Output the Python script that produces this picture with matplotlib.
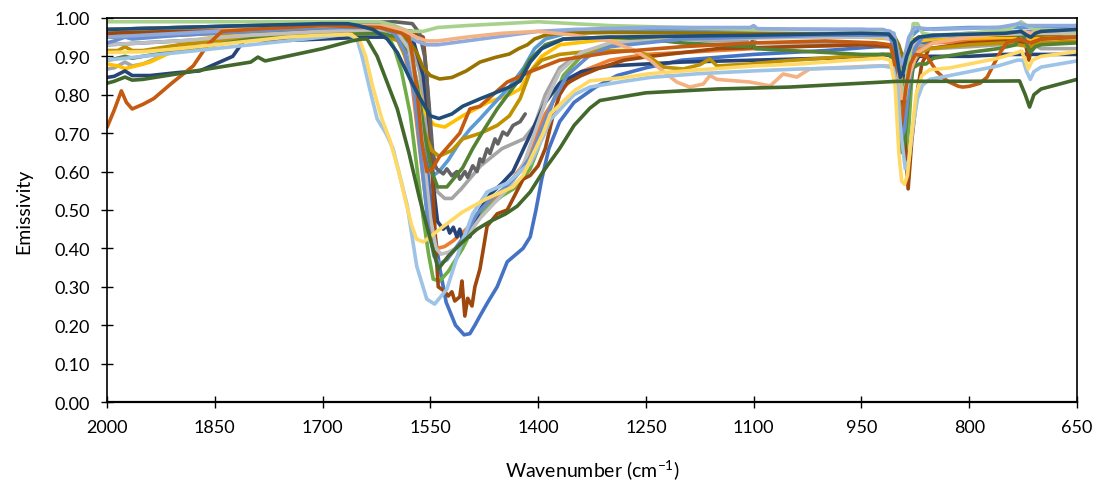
import matplotlib.pyplot as plt
from matplotlib.ticker import FormatStrFormatter

plt.rcParams['font.family'] = ['Lato', 'DejaVu Sans']

# Emissivity spectra, each sample as wavenumber (cm-1) / emissivity pairs
s01_wn = [2000, 1950, 1900, 1850, 1800, 1700, 1620, 1595, 1580, 1567, 1557, 1547, 1537, 1528, 1515, 1503, 1495, 1488,
          1481, 1470, 1457, 1443, 1421, 1411, 1403, 1395, 1385, 1370, 1350, 1320, 1290, 1250, 1200, 1100, 1000, 930,
          905, 895, 889, 882, 872, 850, 750, 725, 715, 700, 650]
s01_em = [0.93, 0.935, 0.94, 0.945, 0.955, 0.97, 0.975, 0.96, 0.92, 0.82, 0.66, 0.48, 0.35, 0.26, 0.20, 0.175, 0.178,
          0.20, 0.224, 0.26, 0.30, 0.365, 0.40, 0.43, 0.50, 0.58, 0.66, 0.73, 0.78, 0.82, 0.85, 0.87, 0.89, 0.905,
          0.915, 0.925, 0.925, 0.90, 0.87, 0.90, 0.93, 0.94, 0.95, 0.955, 0.945, 0.955, 0.96]

s02_wn = [2000, 1900, 1800, 1700, 1620, 1600, 1588, 1575, 1565, 1556, 1548, 1540, 1530, 1518, 1500, 1480, 1460, 1440,
          1420, 1405, 1390, 1370, 1340, 1300, 1250, 1150, 1050, 950, 910, 903, 898, 894, 889, 882, 872, 850, 750, 720,
          700, 650]
s02_em = [0.95, 0.96, 0.965, 0.975, 0.975, 0.965, 0.92, 0.82, 0.66, 0.52, 0.43, 0.40, 0.405, 0.42, 0.45, 0.49, 0.53,
          0.57, 0.62, 0.68, 0.75, 0.81, 0.86, 0.89, 0.905, 0.915, 0.925, 0.93, 0.93, 0.88, 0.78, 0.75, 0.78, 0.88,
          0.92, 0.935, 0.945, 0.95, 0.95, 0.955]

s03_wn = [2000, 1990, 1975, 1965, 1950, 1900, 1850, 1800, 1700, 1620, 1590, 1575, 1565, 1555, 1548, 1540, 1530, 1520,
          1507, 1480, 1450, 1420, 1405, 1390, 1370, 1340, 1300, 1250, 1200, 1150, 1110, 1103, 1097, 1050, 1000, 950,
          910, 900, 895, 890, 880, 870, 850, 800, 760, 740, 728, 715, 700, 650]
s03_em = [0.867, 0.87, 0.885, 0.875, 0.88, 0.92, 0.945, 0.955, 0.965, 0.968, 0.965, 0.93, 0.86, 0.72, 0.60, 0.547,
          0.53, 0.53, 0.555, 0.615, 0.66, 0.685, 0.72, 0.80, 0.87, 0.91, 0.93, 0.945, 0.945, 0.94, 0.94, 0.955, 0.935,
          0.935, 0.935, 0.93, 0.93, 0.90, 0.86, 0.87, 0.92, 0.93, 0.92, 0.925, 0.93, 0.935, 0.97, 0.935, 0.92, 0.92]

s04_wn = [2000, 1985, 1975, 1960, 1940, 1900, 1870, 1830, 1750, 1650, 1600, 1585, 1575, 1565, 1555, 1545, 1530, 1505,
          1490, 1470, 1455, 1440, 1425, 1411, 1395, 1370, 1300, 1100, 950, 905, 898, 893, 889, 884, 878, 870, 850,
          750, 715, 700, 650]
s04_em = [0.88, 0.875, 0.868, 0.875, 0.885, 0.92, 0.945, 0.955, 0.96, 0.97, 0.965, 0.94, 0.89, 0.80, 0.745, 0.722,
          0.716, 0.745, 0.76, 0.78, 0.79, 0.80, 0.815, 0.86, 0.90, 0.93, 0.945, 0.95, 0.95, 0.945, 0.90, 0.85, 0.83,
          0.86, 0.92, 0.94, 0.945, 0.95, 0.94, 0.95, 0.955]

s05_wn = [2000, 1900, 1800, 1700, 1620, 1590, 1575, 1565, 1556, 1546, 1538, 1525, 1509, 1495, 1481, 1460, 1440, 1420,
          1405, 1390, 1360, 1300, 1100, 950, 910, 903, 898, 894, 890, 882, 870, 800, 700, 650]
s05_em = [0.97, 0.975, 0.98, 0.985, 0.98, 0.96, 0.90, 0.78, 0.66, 0.59, 0.60, 0.63, 0.677, 0.71, 0.737, 0.78, 0.82,
          0.87, 0.92, 0.945, 0.96, 0.965, 0.97, 0.97, 0.965, 0.93, 0.86, 0.83, 0.86, 0.95, 0.97, 0.975, 0.975, 0.98]

s06_wn = [2000, 1900, 1800, 1700, 1640, 1620, 1610, 1600, 1590, 1578, 1568, 1560, 1552, 1546, 1537, 1525, 1505, 1481,
          1450, 1430, 1411, 1400, 1390, 1380, 1365, 1340, 1300, 1200, 1100, 950, 905, 898, 893, 889, 884, 878, 870,
          850, 720, 650]
s06_em = [0.96, 0.97, 0.975, 0.98, 0.98, 0.975, 0.96, 0.92, 0.86, 0.75, 0.60, 0.48, 0.38, 0.32, 0.315, 0.34, 0.40,
          0.49, 0.537, 0.56, 0.607, 0.66, 0.72, 0.78, 0.85, 0.90, 0.93, 0.945, 0.95, 0.955, 0.95, 0.85, 0.66, 0.63,
          0.72, 0.90, 0.95, 0.955, 0.96, 0.965]

s07_wn = [2000, 1990, 1975, 1965, 1940, 1900, 1871, 1825, 1805, 1791, 1770, 1700, 1640, 1600, 1575, 1560, 1550, 1545,
          1540, 1532, 1527, 1523, 1518, 1513, 1509, 1505, 1500, 1495, 1490, 1481, 1467, 1450, 1435, 1420, 1405, 1390,
          1370, 1340, 1300, 1200, 1100, 1000, 950, 920, 905, 895, 888, 880, 870, 850, 800, 750, 700, 650]
s07_em = [0.845, 0.848, 0.862, 0.85, 0.85, 0.858, 0.862, 0.90, 0.953, 0.945, 0.94, 0.945, 0.95, 0.95, 0.95, 0.85,
          0.70, 0.55, 0.47, 0.45, 0.46, 0.44, 0.455, 0.43, 0.45, 0.42, 0.44, 0.43, 0.46, 0.50, 0.54, 0.57, 0.60, 0.66,
          0.72, 0.78, 0.83, 0.86, 0.875, 0.885, 0.89, 0.895, 0.90, 0.905, 0.90, 0.86, 0.84, 0.87, 0.90, 0.90, 0.90,
          0.905, 0.905, 0.905]

s08_wn = [2000, 1900, 1800, 1700, 1600, 1575, 1560, 1555, 1550, 1545, 1541, 1539, 1530, 1525, 1520, 1516, 1509, 1506,
          1502, 1498, 1492, 1488, 1481, 1477, 1471, 1457, 1443, 1432, 1421, 1411, 1400, 1390, 1380, 1370, 1360, 1340,
          1314, 1280, 1244, 1150, 1050, 950, 905, 895, 890, 885, 880, 873, 866, 856, 800, 740, 722, 717, 712, 700, 650]
s08_em = [0.96, 0.965, 0.97, 0.975, 0.97, 0.965, 0.95, 0.85, 0.70, 0.50, 0.36, 0.30, 0.288, 0.276, 0.287, 0.263,
          0.274, 0.315, 0.224, 0.27, 0.25, 0.30, 0.346, 0.39, 0.458, 0.49, 0.50, 0.54, 0.58, 0.59, 0.615, 0.66, 0.74,
          0.80, 0.83, 0.85, 0.87, 0.89, 0.90, 0.92, 0.925, 0.93, 0.925, 0.88, 0.70, 0.555, 0.68, 0.80, 0.88, 0.92,
          0.935, 0.94, 0.935, 0.89, 0.935, 0.945, 0.95]

# this sample stops at 1418 cm-1
s09_wn = [2000, 1900, 1800, 1700, 1600, 1575, 1565, 1558, 1552, 1547, 1543, 1541, 1532, 1527, 1520, 1513, 1509, 1502,
          1498, 1491, 1485, 1481, 1477, 1471, 1467, 1460, 1456, 1449, 1443, 1435, 1425, 1418]
s09_em = [0.97, 0.975, 0.98, 0.985, 0.99, 0.985, 0.96, 0.90, 0.78, 0.66, 0.615, 0.607, 0.594, 0.607, 0.589, 0.60,
          0.58, 0.60, 0.585, 0.615, 0.60, 0.633, 0.625, 0.659, 0.647, 0.685, 0.672, 0.703, 0.695, 0.72, 0.73, 0.75]

s10_wn = [2000, 1985, 1975, 1965, 1950, 1900, 1850, 1800, 1700, 1620, 1595, 1580, 1568, 1558, 1548, 1538, 1520, 1505,
          1480, 1457, 1440, 1425, 1411, 1395, 1370, 1320, 1270, 1250, 1235, 1226, 1198, 1175, 1161, 1151, 1105, 1059,
          966, 912, 905, 900, 896, 892, 888, 883, 876, 868, 855, 800, 750, 715, 700, 650]
s10_em = [0.915, 0.915, 0.925, 0.915, 0.915, 0.93, 0.94, 0.95, 0.96, 0.96, 0.94, 0.88, 0.78, 0.70, 0.655, 0.64, 0.655,
          0.685, 0.70, 0.72, 0.745, 0.79, 0.86, 0.89, 0.905, 0.915, 0.915, 0.905, 0.885, 0.872, 0.867, 0.878, 0.893,
          0.875, 0.88, 0.888, 0.90, 0.905, 0.90, 0.82, 0.76, 0.745, 0.77, 0.84, 0.89, 0.91, 0.92, 0.93, 0.935, 0.925,
          0.935, 0.94]

s11_wn = [2000, 1900, 1800, 1650, 1600, 1580, 1569, 1560, 1550, 1537, 1520, 1500, 1481, 1460, 1440, 1427, 1415, 1405,
          1390, 1370, 1300, 1100, 1000, 905, 898, 893, 888, 880, 870, 800, 700, 650]
s11_em = [0.95, 0.955, 0.965, 0.975, 0.965, 0.94, 0.91, 0.87, 0.85, 0.841, 0.845, 0.862, 0.885, 0.897, 0.906, 0.92,
          0.93, 0.945, 0.955, 0.96, 0.962, 0.96, 0.958, 0.955, 0.93, 0.90, 0.91, 0.94, 0.95, 0.955, 0.955, 0.96]

s12_wn = [2000, 1990, 1975, 1965, 1950, 1900, 1850, 1800, 1700, 1620, 1595, 1580, 1568, 1558, 1548, 1540, 1527, 1505,
          1491, 1475, 1457, 1429, 1411, 1390, 1365, 1300, 1250, 1200, 1150, 1105, 1102, 1098, 1050, 1000, 950, 910,
          903, 898, 894, 890, 884, 878, 870, 860, 850, 800, 760, 735, 728, 722, 715, 708, 700, 650]
s12_em = [0.89, 0.893, 0.90, 0.895, 0.90, 0.915, 0.93, 0.945, 0.955, 0.96, 0.95, 0.91, 0.82, 0.70, 0.60, 0.56, 0.56,
          0.61, 0.66, 0.71, 0.763, 0.833, 0.893, 0.93, 0.945, 0.95, 0.945, 0.935, 0.93, 0.925, 0.94, 0.92, 0.915, 0.91,
          0.905, 0.905, 0.85, 0.70, 0.65, 0.68, 0.80, 0.87, 0.88, 0.88, 0.895, 0.91, 0.92, 0.93, 0.965, 0.94, 0.91,
          0.925, 0.93, 0.935]

s13_wn = [2000, 1900, 1800, 1700, 1620, 1595, 1580, 1568, 1558, 1550, 1542, 1535, 1525, 1515, 1500, 1480, 1460, 1440,
          1420, 1405, 1390, 1370, 1340, 1300, 1200, 1000, 920, 905, 898, 893, 889, 882, 870, 800, 700, 650]
s13_em = [0.93, 0.94, 0.955, 0.965, 0.97, 0.96, 0.92, 0.80, 0.62, 0.48, 0.40, 0.385, 0.39, 0.40, 0.43, 0.48, 0.52,
          0.56, 0.62, 0.70, 0.78, 0.86, 0.91, 0.935, 0.945, 0.95, 0.95, 0.94, 0.87, 0.80, 0.82, 0.92, 0.95, 0.955,
          0.96, 0.96]

s14_wn = [2000, 1990, 1975, 1965, 1900, 1800, 1700, 1620, 1600, 1585, 1572, 1562, 1553, 1545, 1537, 1527, 1515, 1500,
          1485, 1465, 1445, 1425, 1410, 1395, 1380, 1360, 1330, 1300, 1200, 1100, 1000, 910, 903, 898, 894, 890, 884,
          876, 865, 800, 700, 650]
s14_em = [0.935, 0.94, 0.95, 0.945, 0.955, 0.965, 0.975, 0.975, 0.96, 0.91, 0.80, 0.62, 0.46, 0.38, 0.36, 0.37,
          0.40, 0.44, 0.49, 0.53, 0.56, 0.60, 0.64, 0.71, 0.78, 0.85, 0.90, 0.925, 0.945, 0.95, 0.955, 0.955, 0.90,
          0.75, 0.69, 0.71, 0.82, 0.92, 0.95, 0.96, 0.965, 0.97]

s15_wn = [2000, 1900, 1800, 1700, 1620, 1600, 1580, 1560, 1540, 1500, 1450, 1400, 1350, 1300, 1200, 1100, 1000, 920,
          905, 898, 893, 889, 884, 878, 872, 865, 850, 800, 745, 728, 720, 710, 700, 650]
s15_em = [0.99, 0.99, 0.99, 0.99, 0.99, 0.98, 0.965, 0.965, 0.975, 0.98, 0.985, 0.99, 0.985, 0.98, 0.975, 0.97,
          0.97, 0.965, 0.96, 0.90, 0.80, 0.79, 0.90, 0.985, 0.985, 0.96, 0.955, 0.96, 0.97, 0.99, 0.98, 0.97, 0.97,
          0.965]

s16_wn = [2000, 1900, 1800, 1700, 1620, 1590, 1570, 1555, 1540, 1520, 1500, 1460, 1420, 1400, 1350, 1250, 1150, 1105,
          1100, 1095, 1000, 920, 905, 898, 894, 890, 884, 876, 850, 760, 730, 720, 700, 650]
s16_em = [0.95, 0.96, 0.97, 0.98, 0.98, 0.965, 0.94, 0.93, 0.93, 0.935, 0.94, 0.95, 0.96, 0.965, 0.97, 0.975, 0.975,
          0.975, 0.98, 0.972, 0.97, 0.97, 0.96, 0.90, 0.88, 0.90, 0.95, 0.975, 0.97, 0.975, 0.985, 0.98, 0.98, 0.98]

s17_wn = [2000, 1900, 1800, 1700, 1620, 1590, 1570, 1555, 1540, 1500, 1450, 1400, 1350, 1300, 1265, 1244, 1230, 1207,
          1189, 1170, 1161, 1151, 1105, 1077, 1059, 1040, 1022, 966, 930, 910, 900, 894, 889, 882, 872, 850, 800, 750,
          725, 715, 700, 650]
s17_em = [0.97, 0.975, 0.975, 0.98, 0.98, 0.97, 0.95, 0.94, 0.94, 0.95, 0.96, 0.965, 0.955, 0.94, 0.915, 0.89, 0.867,
          0.833, 0.82, 0.828, 0.85, 0.84, 0.833, 0.823, 0.854, 0.846, 0.867, 0.872, 0.875, 0.875, 0.85, 0.79, 0.80,
          0.86, 0.91, 0.935, 0.95, 0.96, 0.965, 0.96, 0.965, 0.97]

s18_wn = [2000, 1990, 1980, 1973, 1965, 1950, 1935, 1910, 1880, 1860, 1840, 1800, 1700, 1620, 1590, 1580, 1575, 1568,
          1562, 1555, 1548, 1537, 1509, 1495, 1481, 1443, 1411, 1370, 1300, 1200, 1100, 1000, 930, 910, 905, 900, 897,
          893, 888, 882, 875, 859, 845, 830, 815, 809, 800, 785, 775, 767, 757, 747, 730, 715, 700, 650]
s18_em = [0.715, 0.76, 0.81, 0.78, 0.763, 0.775, 0.79, 0.83, 0.875, 0.93, 0.965, 0.97, 0.98, 0.975, 0.96, 0.95, 0.90,
          0.80, 0.68, 0.60, 0.605, 0.64, 0.70, 0.763, 0.77, 0.833, 0.86, 0.89, 0.91, 0.925, 0.935, 0.94, 0.935, 0.93,
          0.90, 0.78, 0.72, 0.74, 0.82, 0.88, 0.905, 0.90, 0.86, 0.835, 0.822, 0.82, 0.822, 0.83, 0.846, 0.875, 0.91,
          0.937, 0.945, 0.935, 0.945, 0.95]

s19_wn = [2000, 1950, 1900, 1850, 1800, 1750, 1700, 1665, 1652, 1645, 1635, 1624, 1612, 1602, 1582, 1569, 1555, 1544,
          1527, 1509, 1491, 1471, 1443, 1421, 1411, 1393, 1383, 1350, 1328, 1280, 1244, 1175, 1100, 1036, 966, 920,
          906, 900, 895, 889, 884, 878, 872, 865, 855, 827, 800, 760, 733, 725, 720, 715, 710, 700, 650]
s19_em = [0.89, 0.90, 0.91, 0.92, 0.93, 0.94, 0.95, 0.958, 0.945, 0.90, 0.82, 0.737, 0.70, 0.66, 0.51, 0.354, 0.268,
          0.255, 0.294, 0.40, 0.49, 0.547, 0.57, 0.607, 0.62, 0.69, 0.735, 0.80, 0.82, 0.835, 0.845, 0.855, 0.862,
          0.867, 0.87, 0.875, 0.87, 0.82, 0.70, 0.607, 0.63, 0.72, 0.79, 0.825, 0.84, 0.85, 0.86, 0.875, 0.89, 0.89,
          0.86, 0.84, 0.86, 0.872, 0.888]

s20_wn = [2000, 1950, 1900, 1850, 1800, 1750, 1700, 1660, 1648, 1640, 1630, 1618, 1606, 1594, 1584, 1576, 1569, 1560,
          1550, 1537, 1505, 1471, 1435, 1421, 1411, 1393, 1383, 1350, 1328, 1280, 1244, 1175, 1100, 1036, 966, 920,
          910, 903, 898, 894, 890, 886, 880, 874, 866, 855, 827, 800, 760, 733, 727, 721, 718, 712, 700, 650]
s20_em = [0.91, 0.912, 0.92, 0.93, 0.94, 0.95, 0.955, 0.957, 0.94, 0.90, 0.82, 0.74, 0.68, 0.60, 0.52, 0.46, 0.424,
          0.417, 0.43, 0.45, 0.495, 0.53, 0.56, 0.59, 0.63, 0.70, 0.75, 0.81, 0.836, 0.845, 0.855, 0.865, 0.875, 0.88,
          0.89, 0.895, 0.89, 0.82, 0.65, 0.575, 0.567, 0.59, 0.70, 0.80, 0.85, 0.865, 0.87, 0.88, 0.895, 0.91, 0.914,
          0.885, 0.867, 0.89, 0.90, 0.912]

s21_wn = [2000, 1990, 1975, 1965, 1950, 1900, 1850, 1800, 1790, 1780, 1750, 1700, 1660, 1645, 1638, 1624, 1596, 1580,
          1565, 1550, 1539, 1525, 1505, 1485, 1467, 1445, 1429, 1411, 1393, 1370, 1350, 1328, 1314, 1250, 1150, 1050,
          950, 900, 800, 730, 722, 716, 710, 700, 650]
s21_em = [0.83, 0.835, 0.846, 0.838, 0.84, 0.855, 0.87, 0.885, 0.898, 0.888, 0.90, 0.92, 0.94, 0.945, 0.945, 0.90,
          0.763, 0.65, 0.53, 0.424, 0.346, 0.38, 0.417, 0.45, 0.47, 0.49, 0.51, 0.547, 0.60, 0.66, 0.72, 0.765, 0.785,
          0.805, 0.815, 0.82, 0.83, 0.835, 0.835, 0.836, 0.80, 0.768, 0.80, 0.815, 0.84]

s22_wn = [2000, 1900, 1800, 1700, 1665, 1650, 1630, 1610, 1596, 1578, 1564, 1550, 1538, 1520, 1505, 1480, 1457, 1440,
          1425, 1411, 1395, 1365, 1300, 1100, 950, 912, 904, 899, 896, 892, 887, 880, 870, 850, 750, 728, 720, 714,
          708, 700, 650]
s22_em = [0.97, 0.975, 0.98, 0.985, 0.985, 0.98, 0.97, 0.945, 0.91, 0.84, 0.79, 0.745, 0.738, 0.75, 0.77, 0.79,
          0.807, 0.82, 0.836, 0.885, 0.92, 0.945, 0.95, 0.955, 0.96, 0.958, 0.94, 0.88, 0.845, 0.86, 0.90, 0.935, 0.95,
          0.955, 0.96, 0.965, 0.955, 0.95, 0.96, 0.965, 0.97]

# Office colour cycle
colors = ['#4472C4', '#ED7D31', '#A5A5A5', '#FFC000', '#5B9BD5', '#70AD47',
          '#264478', '#9E480E', '#636363', '#BF9000', '#997300', '#548235',
          '#BFBFBF', '#698ED0', '#A9D18E', '#8FAADC', '#F4B183', '#C55A11',
          '#9DC3E6', '#FFD966', '#43682B', '#1F4E79']

spectra = [(s01_wn, s01_em), (s02_wn, s02_em), (s03_wn, s03_em), (s04_wn, s04_em), (s05_wn, s05_em),
           (s06_wn, s06_em), (s07_wn, s07_em), (s08_wn, s08_em), (s09_wn, s09_em), (s10_wn, s10_em),
           (s11_wn, s11_em), (s12_wn, s12_em), (s13_wn, s13_em), (s14_wn, s14_em), (s15_wn, s15_em),
           (s16_wn, s16_em), (s17_wn, s17_em), (s18_wn, s18_em), (s19_wn, s19_em), (s20_wn, s20_em),
           (s21_wn, s21_em), (s22_wn, s22_em)]

xticks = [2000, 1850, 1700, 1550, 1400, 1250, 1100, 950, 800, 650]

fig = plt.figure(figsize=(11.01, 4.85), dpi=100)
ax = fig.add_axes([0.0972, 0.169, 0.881, 0.792])

for (wn, em), c in zip(spectra, colors):
    ax.plot(wn, em, color=c, lw=2.6, solid_joinstyle='round', solid_capstyle='round')

# wavenumber decreasing to the right
ax.set_xlim(2000, 650)
ax.set_ylim(0, 1)
ax.set_xticks(xticks)
ax.set_yticks([i / 10 for i in range(11)])
ax.yaxis.set_major_formatter(FormatStrFormatter('%.2f'))
ax.tick_params(direction='inout', length=8, width=1, labelsize=13, pad=8)

for side in ['left', 'bottom', 'right', 'top']:
    ax.spines[side].set_color('black')
    ax.spines[side].set_linewidth(1.2)
ax.spines['bottom'].set_linewidth(1.6)

ax.set_xlabel('Wavenumber (cm$\\mathregular{^{-1}}$)', fontsize=14, labelpad=16)
ax.set_ylabel('Emissivity', fontsize=14, labelpad=16)

plt.savefig('out.png', dpi=100)
